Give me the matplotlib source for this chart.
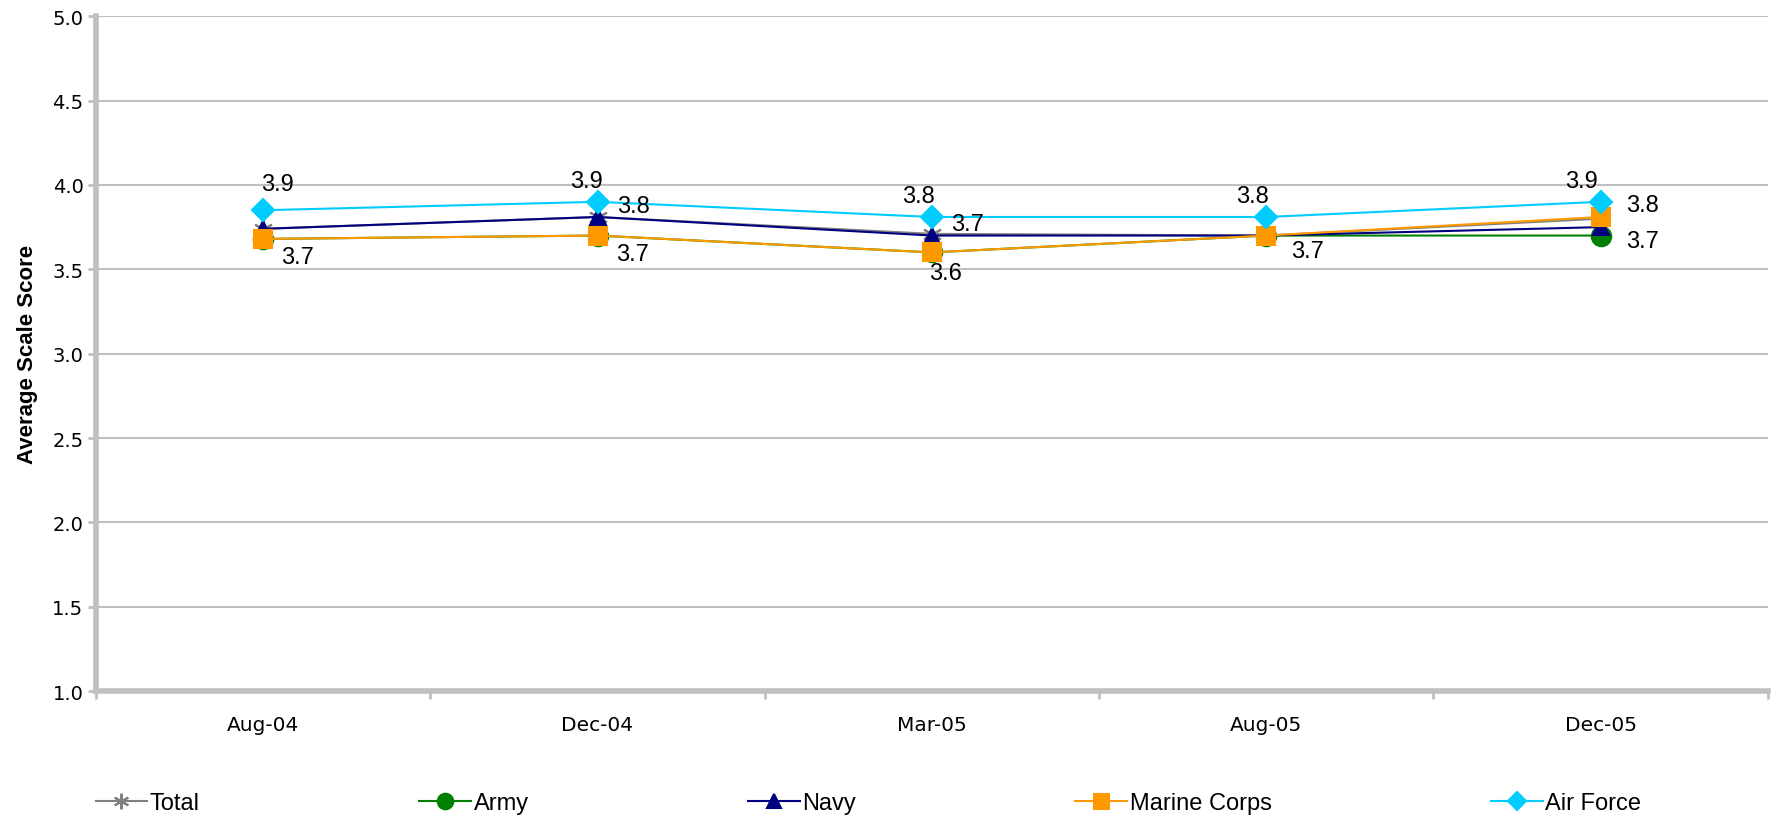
import matplotlib.pyplot as plt

plt.rcParams['font.family'] = ['Liberation Sans', 'DejaVu Sans']

dates = ["Aug-04", "Dec-04", "Mar-05", "Aug-05", "Dec-05"]
total = [3.74, 3.81, 3.71, 3.70, 3.80]
army = [3.68, 3.70, 3.60, 3.70, 3.70]
navy = [3.74, 3.81, 3.70, 3.70, 3.75]
marine = [3.68, 3.70, 3.60, 3.70, 3.81]
air_force = [3.85, 3.90, 3.81, 3.81, 3.90]

# (series name, point index, label offset in points)
labels = [
    ("Air Force", 0, (10, 19)), ("Marine Corps", 0, (25, -13)),
    ("Air Force", 1, (-8, 15)), ("Total", 1, (26, 8)), ("Marine Corps", 1, (25, -13)),
    ("Air Force", 2, (-10, 15)), ("Navy", 2, (26, 8)), ("Marine Corps", 2, (10, -15)),
    ("Air Force", 3, (-10, 15)), ("Army", 3, (30, -11)),
    ("Air Force", 4, (-14, 15)), ("Total", 4, (30, 10)), ("Army", 4, (30, -4)),
]

series = {
    "Total": (total, "#808080", (6, 2, 0), 14),
    "Army": (army, "#008000", "o", 14),
    "Navy": (navy, "#000080", "^", 12),
    "Marine Corps": (marine, "#FF9900", "s", 13.5),
    "Air Force": (air_force, "#00CCFF", "D", 11),
}

fig = plt.figure(figsize=(17.71, 8.2), dpi=100)
ax = fig.add_axes([0.0542, 0.156, 0.944, 0.823])

x = [i + 0.5 for i in range(len(dates))]
for name, (vals, color, mk, ms) in series.items():
    ax.plot(x, vals, color=color, marker=mk, markersize=ms, linewidth=1.5,
            markeredgewidth=1.5, label=name, zorder=3)

for name, i, off in labels:
    v = series[name][0][i]
    ax.annotate(f"{v:.1f}", (x[i], v), xytext=off, textcoords="offset points",
                ha="center", va="center", fontsize=17)

ax.set_xlim(0, 5)
ax.set_ylim(1.0, 5.0)
ax.set_yticks([1.0, 1.5, 2.0, 2.5, 3.0, 3.5, 4.0, 4.5, 5.0])
ax.set_yticklabels([f"{t:.1f}" for t in ax.get_yticks()], fontsize=14,
                   family="DejaVu Sans")
ax.set_xticks(x)
ax.set_xticklabels(dates, fontsize=14.5, family="DejaVu Sans")
ax.set_xticks(range(6), minor=True)
ax.tick_params(axis="x", which="major", length=0, pad=17)
ax.tick_params(axis="x", which="minor", length=6, width=2, color="#C0C0C0")
ax.tick_params(axis="y", length=6, width=2, color="#C0C0C0", pad=3)
ax.grid(axis="y", color="#C0C0C0", linewidth=1.5, zorder=0)
ax.set_axisbelow(True)
for s in ["top", "right"]:
    ax.spines[s].set_visible(False)
for s in ["left", "bottom"]:
    ax.spines[s].set_color("#C0C0C0")
    ax.spines[s].set_linewidth(4)
ax.set_ylabel("Average Scale Score", fontsize=16, fontweight="bold", labelpad=10)

ax.legend(loc="center left", bbox_to_anchor=(-0.013, -0.166, 0.95, 0.0), ncol=5,
          mode="expand", frameon=False, fontsize=17, handlelength=2.2,
          handletextpad=0.1, markerscale=0.8)

fig.savefig("out.png", dpi=100)
